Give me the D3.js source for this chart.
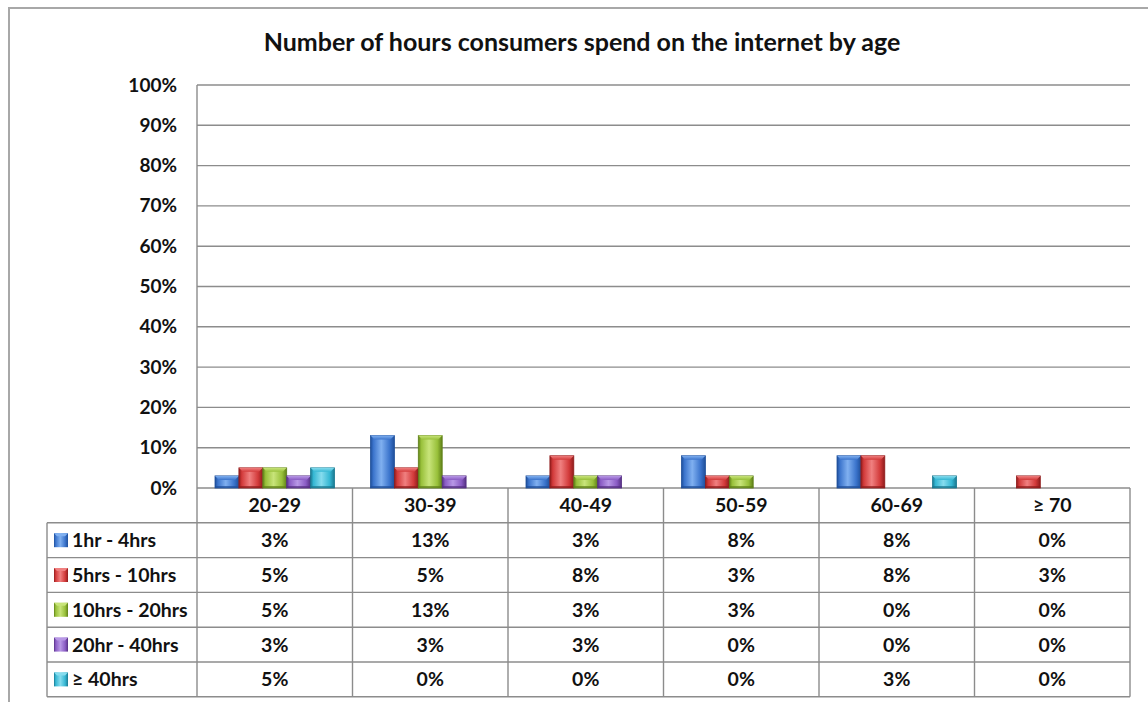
<!DOCTYPE html>
<html>
<head>
<meta charset="utf-8">
<script src="https://cdn.jsdelivr.net/npm/d3@7"></script>
<style>
  html, body { margin: 0; padding: 0; background: #fff; }
  svg { display: block; font-family: Lato, "Open Sans", sans-serif; }
</style>
</head>
<body>
<svg id="chart" width="1148" height="702"></svg>
<script>
// Age groups along the category axis
const ageGroups = ["20-29", "30-39", "40-49", "50-59", "60-69", "\u2265 70"];

// Hours-per-week bands (one series each)
const seriesNames = ["1hr - 4hrs", "5hrs - 10hrs", "10hrs - 20hrs", "20hr - 40hrs", "\u2265 40hrs"];

// Share of consumers (%) for each band, per age group
const hours1to4   = [3, 13, 3, 8, 8, 0];
const hours5to10  = [5, 5, 8, 3, 8, 3];
const hours10to20 = [5, 13, 3, 3, 0, 0];
const hours20to40 = [3, 3, 3, 0, 0, 0];
const hours40plus = [5, 0, 0, 0, 3, 0];
const seriesValues = [hours1to4, hours5to10, hours10to20, hours20to40, hours40plus];

// Value axis ticks
const yTicks = [0, 10, 20, 30, 40, 50, 60, 70, 80, 90, 100];

const title = "Number of hours consumers spend on the internet by age";

// Series colours: [base, light, dark]
const palette = [
  ["#3b74cc", "#80b0f0", "#1f4f9a"],
  ["#d23a3a", "#f08080", "#8f1c1c"],
  ["#98c03a", "#c8e47a", "#5f8018"],
  ["#8a5cc4", "#b898e6", "#553083"],
  ["#35b7d3", "#86dcee", "#1a7890"]
];

const svg = d3.select("#chart");
const defs = svg.append("defs");

const plot = { left: 197, right: 1130, top: 85, bottom: 488 };
const rowH = 34.8;
const tableLeft = 47;
const gridColor = "#8c8c8c";
const labelSize = 19.5;

// Outer chart frame
svg.append("path")
  .attr("d", "M9,720 L9,8 L1160,8")
  .attr("fill", "none").attr("stroke", "#a8a8a8").attr("stroke-width", 2);

// Title
svg.append("text")
  .attr("x", 582).attr("y", 51)
  .attr("text-anchor", "middle")
  .attr("font-size", 25).attr("font-weight", 700).attr("fill", "#111")
  .text(title);

// Scales
const x = d3.scaleBand().domain(ageGroups).range([plot.left, plot.right]).padding(0);
const groupInset = 18;
const xs = d3.scaleBand().domain(d3.range(seriesNames.length))
  .range([groupInset, x.bandwidth() - groupInset]).padding(0);
const y = d3.scaleLinear().domain([0, 100]).range([plot.bottom, plot.top]);

// Horizontal gridlines
svg.append("g").selectAll("line").data(yTicks).join("line")
  .attr("x1", plot.left).attr("x2", plot.right)
  .attr("y1", d => y(d)).attr("y2", d => y(d))
  .attr("stroke", gridColor).attr("stroke-width", 1.4);

// Value axis labels
const yAxis = svg.append("g")
  .attr("transform", `translate(${plot.left},0)`)
  .call(d3.axisLeft(y).tickValues(yTicks).tickFormat(d => d + "%").tickSize(0).tickPadding(20));
yAxis.select(".domain").remove();
yAxis.selectAll("text")
  .attr("font-family", "Lato, 'Open Sans', sans-serif")
  .attr("font-size", 19).attr("font-weight", 700).attr("fill", "#111");

// Gradients giving the bars a bevelled look
palette.forEach((c, i) => {
  const g = defs.append("linearGradient").attr("id", "bar" + i)
    .attr("x1", "0").attr("x2", "1").attr("y1", "0").attr("y2", "0");
  g.append("stop").attr("offset", "0").attr("stop-color", c[2]);
  g.append("stop").attr("offset", "0.12").attr("stop-color", c[0]);
  g.append("stop").attr("offset", "0.45").attr("stop-color", c[1]);
  g.append("stop").attr("offset", "0.8").attr("stop-color", c[0]);
  g.append("stop").attr("offset", "1").attr("stop-color", c[2]);
  const t = defs.append("linearGradient").attr("id", "top" + i)
    .attr("x1", "0").attr("x2", "0").attr("y1", "0").attr("y2", "1");
  t.append("stop").attr("offset", "0").attr("stop-color", c[1]);
  t.append("stop").attr("offset", "1").attr("stop-color", c[0]);
});

// Bars
const barData = [];
ageGroups.forEach((a, ci) => {
  seriesValues.forEach((vals, si) => {
    barData.push({ age: a, s: si, v: vals[ci] });
  });
});
const bars = svg.append("g").selectAll("g").data(barData.filter(d => d.v > 0)).join("g")
  .attr("transform", d => `translate(${x(d.age) + xs(d.s)},0)`);
bars.append("rect")
  .attr("x", 0).attr("width", xs.bandwidth())
  .attr("y", d => y(d.v)).attr("height", d => y(0) - y(d.v))
  .attr("fill", d => `url(#bar${d.s})`)
  .attr("stroke", d => palette[d.s][2]).attr("stroke-width", 0.8);
bars.append("path")
  .attr("d", d => {
    const w = xs.bandwidth(), t = y(d.v), b = 4;
    return `M0,${t} L${w},${t} L${w - b},${t + b} L${b},${t + b} Z`;
  })
  .attr("fill", d => `url(#top${d.s})`);
bars.append("rect")
  .attr("x", 0).attr("width", xs.bandwidth())
  .attr("y", y(0) - 2).attr("height", 2)
  .attr("fill", d => palette[d.s][2]).attr("opacity", 0.7);

// Data table beneath the plot
const table = svg.append("g");
const tableBottom = plot.bottom + rowH * (seriesNames.length + 1);

// Horizontal rules of the table
const rowLines = d3.range(1, seriesNames.length + 2).map(i => plot.bottom + rowH * i);
table.selectAll("line.h").data(rowLines).join("line")
  .attr("x1", tableLeft).attr("x2", plot.right)
  .attr("y1", d => d).attr("y2", d => d)
  .attr("stroke", gridColor).attr("stroke-width", 1.4);

// Vertical rules: category boundaries
const colEdges = ageGroups.map(a => x(a)).concat([plot.right]);
table.selectAll("line.v").data(colEdges).join("line")
  .attr("x1", d => d).attr("x2", d => d)
  .attr("y1", (d, i) => i === 0 ? plot.top : plot.bottom).attr("y2", tableBottom)
  .attr("stroke", gridColor).attr("stroke-width", 1.4);
table.append("line")
  .attr("x1", tableLeft).attr("x2", tableLeft)
  .attr("y1", plot.bottom + rowH).attr("y2", tableBottom)
  .attr("stroke", gridColor).attr("stroke-width", 1.4);

// Category labels in the header row
table.selectAll("text.cat").data(ageGroups).join("text")
  .attr("x", d => x(d) + x.bandwidth() / 2)
  .attr("y", plot.bottom + rowH / 2 + 7)
  .attr("text-anchor", "middle")
  .attr("font-size", labelSize).attr("font-weight", 700).attr("fill", "#111")
  .text(d => d);

// Legend keys and series names
const legendRows = table.selectAll("g.lg").data(seriesNames).join("g")
  .attr("transform", (d, i) => `translate(0,${plot.bottom + rowH * (i + 1)})`);
legendRows.append("rect")
  .attr("x", 54).attr("y", rowH / 2 - 7).attr("width", 14).attr("height", 14)
  .attr("fill", (d, i) => `url(#bar${i})`);
legendRows.append("path")
  .attr("d", `M54,${rowH / 2 - 7} L68,${rowH / 2 - 7} L65,${rowH / 2 - 4} L57,${rowH / 2 - 4} Z`)
  .attr("fill", (d, i) => palette[i][1]);
legendRows.append("text")
  .attr("x", 72).attr("y", rowH / 2 + 7)
  .attr("font-size", labelSize).attr("font-weight", 700).attr("fill", "#111")
  .text(d => d);

// Cell values
legendRows.each(function (name, si) {
  d3.select(this).selectAll("text.val").data(seriesValues[si]).join("text")
    .attr("x", (v, ci) => x(ageGroups[ci]) + x.bandwidth() / 2)
    .attr("y", rowH / 2 + 7)
    .attr("text-anchor", "middle")
    .attr("font-size", labelSize).attr("font-weight", 700).attr("fill", "#111")
    .text(v => v + "%");
});
</script>
</body>
</html>
